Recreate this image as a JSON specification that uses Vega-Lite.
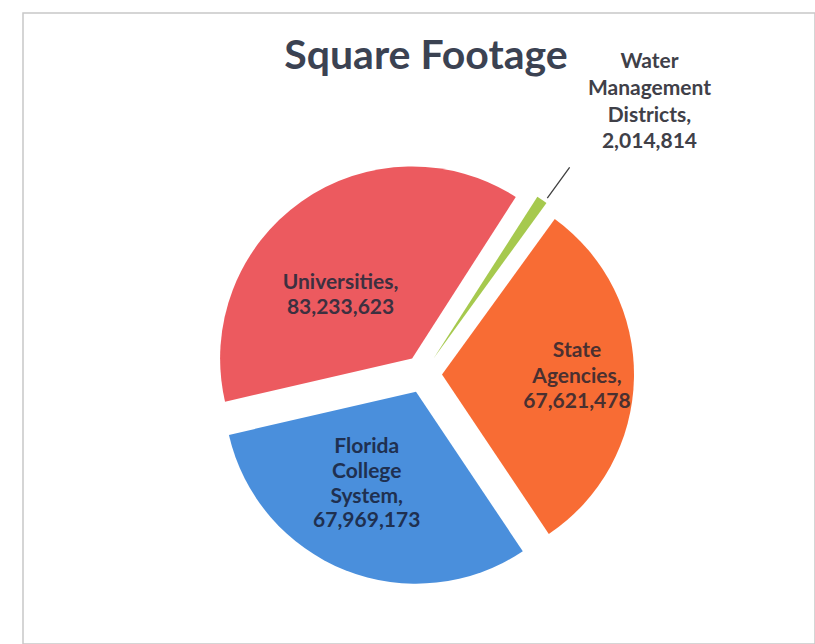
{
  "$schema": "https://vega.github.io/schema/vega-lite/v6.json",
  "width": 792,
  "height": 631,
  "autosize": {"type": "none"},
  "padding": {"left": 23, "top": 13, "right": 0, "bottom": 0},
  "background": "white",
  "config": {"view": {"stroke": null}, "font": "Lato"},
  "title": {"text": "Square Footage", "font": "Lato", "fontSize": 41, "fontWeight": "bold", "color": "#3b4252", "anchor": "middle", "frame": "group", "baseline": "alphabetic", "offset": 0, "dy": 98, "dx": 7},
  "data": {"values": [
    {"name": "Universities", "value": 83233623, "order": 1, "label": "Universities, 83,233,623"},
    {"name": "Water Management Districts", "value": 2014814, "order": 2, "label": "Water Management Districts, 2,014,814"},
    {"name": "State Agencies", "value": 67621478, "order": 3, "label": "State Agencies, 67,621,478"},
    {"name": "Florida College System", "value": 67969173, "order": 4, "label": "Florida College System, 67,969,173"}
  ]},
  "layer": [
    {
      "data": {"values": [{"frame": "chart area"}]},
      "mark": {"type": "rect", "filled": false, "color": "#c8c8c8", "strokeWidth": 1.5},
      "encoding": {}
    },
    {
      "transform": [{"stack": "value", "groupby": [], "sort": [{"field": "order", "order": "ascending"}], "as": ["v0", "v1"]}, {"filter": "datum.name === 'Universities'"}],
      "mark": {"type": "arc", "radius": 192, "xOffset": -6.9, "yOffset": 30},
      "encoding": {
        "theta": {"field": "v0", "type": "quantitative", "scale": {"range": [4.4855, 10.7687], "zero": true, "nice": false}},
        "theta2": {"field": "v1"},
        "color": {"field": "name", "type": "nominal", "legend": null, "scale": {"domain": ["Universities", "Water Management Districts", "State Agencies", "Florida College System"], "range": ["#ec5a5f", "#a6c94e", "#f86c34", "#4a8fdc"]}}
      }
    },
    {
      "transform": [{"stack": "value", "groupby": [], "sort": [{"field": "order", "order": "ascending"}], "as": ["v0", "v1"]}, {"filter": "datum.name === 'Water Management Districts'"}],
      "mark": {"type": "arc", "radius": 192, "xOffset": 14.7, "yOffset": 29.8},
      "encoding": {
        "theta": {"field": "v0", "type": "quantitative"},
        "theta2": {"field": "v1"},
        "color": {"field": "name", "type": "nominal", "legend": null}
      }
    },
    {
      "transform": [{"stack": "value", "groupby": [], "sort": [{"field": "order", "order": "ascending"}], "as": ["v0", "v1"]}, {"filter": "datum.name === 'State Agencies'"}],
      "mark": {"type": "arc", "radius": 192, "xOffset": 23, "yOffset": 45.9},
      "encoding": {
        "theta": {"field": "v0", "type": "quantitative"},
        "theta2": {"field": "v1"},
        "color": {"field": "name", "type": "nominal", "legend": null}
      }
    },
    {
      "transform": [{"stack": "value", "groupby": [], "sort": [{"field": "order", "order": "ascending"}], "as": ["v0", "v1"]}, {"filter": "datum.name === 'Florida College System'"}],
      "mark": {"type": "arc", "radius": 192, "xOffset": -3, "yOffset": 63.2},
      "encoding": {
        "theta": {"field": "v0", "type": "quantitative"},
        "theta2": {"field": "v1"},
        "color": {"field": "name", "type": "nominal", "legend": null}
      }
    },
    {
      "transform": [{"stack": "value", "groupby": [], "sort": [{"field": "order", "order": "ascending"}], "as": ["v0", "v1"]}, {"filter": "datum.name === 'Water Management Districts'"}],
      "mark": {"type": "arc", "radius": 236, "radius2": 198, "filled": false, "color": "#404040", "strokeWidth": 1.3, "xOffset": 12, "yOffset": 29.8},
      "encoding": {
        "theta": {"field": "v1", "type": "quantitative"},
        "theta2": {"field": "v1"}
      }
    },
    {
      "mark": {"type": "text", "radius": 93, "xOffset": -6.9, "yOffset": 30, "dx": -18, "dy": 0.5, "font": "Lato", "fontWeight": "bold", "fontSize": 21, "lineBreak": " ", "lineHeight": 25, "align": "center", "baseline": "middle", "color": "#3d3040"},
      "encoding": {
        "theta": {"field": "value", "type": "quantitative", "stack": true},
        "order": {"field": "order", "type": "quantitative"},
        "text": {"condition": {"test": "datum.name === 'Universities'", "field": "label", "type": "nominal"}, "value": ""}
      }
    },
    {
      "mark": {"type": "text", "radius": 333, "xOffset": 14.7, "yOffset": 29.8, "dx": 28, "dy": -21, "font": "Lato", "fontWeight": "bold", "fontSize": 21, "lineBreak": " ", "lineHeight": 26.7, "align": "center", "baseline": "middle", "color": "#404048"},
      "encoding": {
        "theta": {"field": "value", "type": "quantitative", "stack": true},
        "order": {"field": "order", "type": "quantitative"},
        "text": {"condition": {"test": "datum.name === 'Water Management Districts'", "field": "label", "type": "nominal"}, "value": ""}
      }
    },
    {
      "mark": {"type": "text", "radius": 135, "xOffset": 23, "yOffset": 45.9, "dy": -25.5, "font": "Lato", "fontWeight": "bold", "fontSize": 21, "lineBreak": " ", "lineHeight": 25.5, "align": "center", "baseline": "middle", "color": "#4a3030"},
      "encoding": {
        "theta": {"field": "value", "type": "quantitative", "stack": true},
        "order": {"field": "order", "type": "quantitative"},
        "text": {"condition": {"test": "datum.name === 'State Agencies'", "field": "label", "type": "nominal"}, "value": ""}
      }
    },
    {
      "mark": {"type": "text", "radius": 104, "xOffset": -3, "yOffset": 63.2, "dx": -11, "dy": -41, "font": "Lato", "fontWeight": "bold", "fontSize": 21, "lineBreak": " ", "lineHeight": 24.7, "align": "center", "baseline": "middle", "color": "#1f3050"},
      "encoding": {
        "theta": {"field": "value", "type": "quantitative", "stack": true},
        "order": {"field": "order", "type": "quantitative"},
        "text": {"condition": {"test": "datum.name === 'Florida College System'", "field": "label", "type": "nominal"}, "value": ""}
      }
    }
  ]
}
